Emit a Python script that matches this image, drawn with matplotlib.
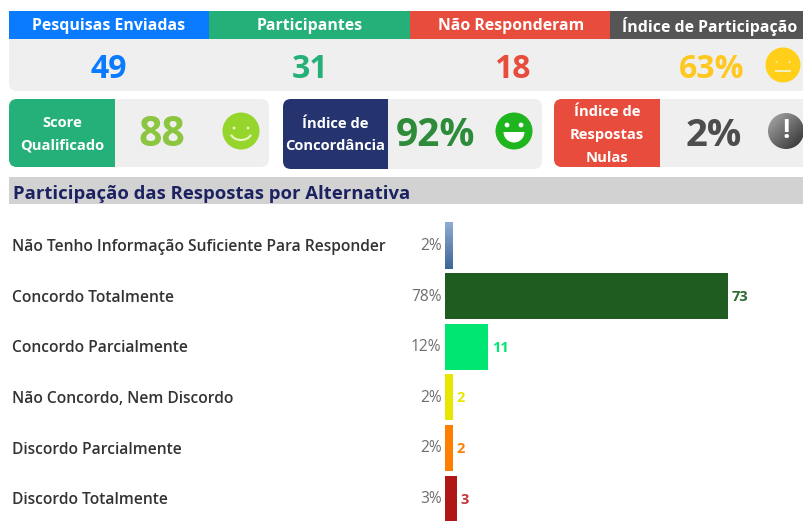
import numpy as np
import matplotlib
matplotlib.use("Agg")
import matplotlib.pyplot as plt
from matplotlib.colors import LinearSegmentedColormap
from matplotlib.patches import FancyBboxPatch, Rectangle, Circle, Arc, Wedge

plt.rcParams['font.family'] = ['Open Sans', 'DejaVu Sans']

header_labels = ["Pesquisas Enviadas", "Participantes", "Não Responderam", "Índice de Participação"]
header_values = ["49", "31", "18", "63%"]
header_colors = ["#0a7bff", "#25b07a", "#e84c3d", "#555555"]
value_colors = ["#0a7bff", "#25b07a", "#e84c3d", "#ffc820"]

card_labels = ["Score\nQualificado", "Índice de\nConcordância", "Índice de\nRespostas\nNulas"]
card_values = ["88", "92%", "2%"]
card_colors = ["#25b07a", "#25336f", "#e84c3d"]
card_value_colors = ["#8cc540", "#2e8b3a", "#4d4d4d"]

chart_title = "Participação das Respostas por Alternativa"
categories = ["Não Tenho Informação Suficiente Para Responder", "Concordo Totalmente",
              "Concordo Parcialmente", "Não Concordo, Nem Discordo",
              "Discordo Parcialmente", "Discordo Totalmente"]
counts = [2, 73, 11, 2, 2, 3]
percents = ["2%", "78%", "12%", "2%", "2%", "3%"]
bar_colors = ["#5b82b4", "#1e5c20", "#00e673", "#e6e600", "#ff8000", "#b01616"]
count_colors = ["#5b82b4", "#2e6b32", "#00e673", "#e6e600", "#ff8000", "#c0393b"]

W, H = 804, 521
fig = plt.figure(figsize=(W / 100, H / 100), dpi=100, facecolor="white")
bg = fig.add_axes([0, 0, 1, 1])
bg.set_xlim(0, W)
bg.set_ylim(H, 0)
bg.axis("off")
GREY = "#efefef"


def rbox(x0, y0, x1, y1, color, r=8, z=1):
    bg.add_patch(FancyBboxPatch((x0 + r, y0 + r), x1 - x0 - 2 * r, y1 - y0 - 2 * r,
                                boxstyle=f"round,pad={r},rounding_size={r}",
                                fc=color, ec="none", zorder=z))


def card(x0, x1, y0, y1, split, color):
    rbox(x0, y0, x1 + 20 if x1 >= W else x1, y1, GREY)
    rbox(x0, y0, split, y1, color, z=2)
    bg.add_patch(Rectangle((split - 12, y0), 12, y1 - y0, fc=color, ec="none", zorder=2))


# Top strip
rbox(9, 25, 830, 91, GREY)
hx = [9, 209.5, 410, 610, 804]
header_text_x = [109, 310, 511, 710]
for i, lab in enumerate(header_labels):
    bg.add_patch(Rectangle((hx[i], 11), hx[i + 1] - hx[i], 28, fc=header_colors[i], ec="none", zorder=2))
    bg.text(header_text_x[i], 26, lab, color="white", fontsize=11.4, fontweight="bold",
            ha="center", va="center", zorder=3)
for v, c, x in zip(header_values, value_colors, [109, 310, 512, 712]):
    bg.text(x, 69, v, color=c, fontsize=23, fontweight="bold", ha="center", va="center", zorder=3)

# Cards
card(9, 269, 99, 167, 115, card_colors[0])
card(283, 542, 99, 169, 388, card_colors[1])
card(554, 804, 99, 167, 660, card_colors[2])
for lab, x, y in zip(card_labels, [62, 335, 607], [134.5, 135, 135]):
    bg.text(x, y, lab, color="white", fontsize=10.6, fontweight="bold", ha="center", va="center",
            linespacing=1.8, zorder=3)
for v, c, x, y, fs in zip(card_values, card_value_colors, [162, 436, 714], [135, 136, 136], [29.5, 28, 27.5]):
    bg.text(x, y, v, color=c, fontsize=fs, fontweight="bold", ha="center", va="center", zorder=3)


def eyes(cx, cy, dx, dy, r, color):
    for s in (-1, 1):
        bg.add_patch(Circle((cx + s * dx, cy + dy), r, fc=color, ec="none", zorder=5))


# Neutral face
bg.add_patch(Circle((783, 65), 17.5, fc="#ffcf1a", ec="none", zorder=4))
eyes(783, 65, 6.5, -3, 1, "#f5f0c0")
bg.plot([776, 790], [71, 71], color="#f5f0c0", lw=1.4, zorder=5)
# Smile face
bg.add_patch(Circle((241, 131), 18.5, fc="#96d62c", ec="none", zorder=4))
eyes(241, 131, 7, -3, 1.4, "#eaf5c8")
bg.add_patch(Arc((241, 131), 22, 18, theta1=20, theta2=160, color="#eaf5c8", lw=1.5, zorder=5))
# Big smile face
bg.add_patch(Circle((514, 131), 18.5, fc="#1eb51e", ec="none", zorder=4))
eyes(514, 125, 7, 0, 2.4, "white")
bg.add_patch(Wedge((514, 132), 10.5, 0, 180, fc="white", ec="none", zorder=5))
# Warning icon
icon_cmap = LinearSegmentedColormap.from_list("icon", ["#a0a0a0", "#383838"])
yy, xx = np.mgrid[-1:1:80j, -1:1:80j]
shade = bg.imshow(xx + yy, extent=(768, 804, 149, 113), cmap=icon_cmap, vmin=-1.6, vmax=1.6,
                  aspect="auto", origin="upper", zorder=4)
shade.set_clip_path(Circle((786, 131), 18, transform=bg.transData))
bg.text(786, 130, "!", color="white", fontsize=19, fontweight="bold", ha="center", va="center", zorder=5)
bg.set_xlim(0, W)
bg.set_ylim(H, 0)

# Chart section
bg.add_patch(Rectangle((9, 177), 795, 27, fc="#d2d2d2", ec="none", zorder=1))
bg.text(13, 194, chart_title, color="#1c2260", fontsize=13.3, fontweight="bold", ha="left", va="center", zorder=3)

# Bars
px_per_unit = 283 / 73
top, bottom = 220.3, 523.9
ax = fig.add_axes([445 / W, (H - bottom) / H, (W - 445) / W, (bottom - top) / H])
ax.patch.set_alpha(0)
y = np.arange(len(categories))
bars = ax.barh(y, counts, height=0.91, color=bar_colors, edgecolor="none", zorder=2)

grad = ax.imshow(np.linspace(0, 1, 50).reshape(-1, 1),
                 extent=(0, counts[0], y[0] + 0.455, y[0] - 0.455),
                 cmap=LinearSegmentedColormap.from_list("g", ["#8fabd2", "#3d6699"]),
                 aspect="auto", zorder=3)
ax.set_xlim(0, (W - 445) / px_per_unit)
ax.set_ylim(len(categories) - 0.5, -0.5)
ax.axis("off")

for i, (cat, n, p) in enumerate(zip(categories, counts, percents)):
    ax.annotate(cat, (0, i), xycoords="data", xytext=(12 - 445, -1.5), textcoords="offset pixels",
                color="#333333", fontsize=11.25, fontweight="semibold", ha="left", va="center", annotation_clip=False)
    ax.annotate(p, (0, i), xycoords="data", xytext=(-3.5, -0.5), textcoords="offset pixels",
                color="#6e6e6e", fontsize=11.2, ha="right", va="center", annotation_clip=False)
    if i > 0:
        ax.annotate(str(n), (n, i), xycoords="data", xytext=(4, -1), textcoords="offset pixels",
                    color=count_colors[i], fontsize=10.5, fontweight="bold", ha="left", va="center", annotation_clip=False)

fig.savefig("out.png", dpi=100)
